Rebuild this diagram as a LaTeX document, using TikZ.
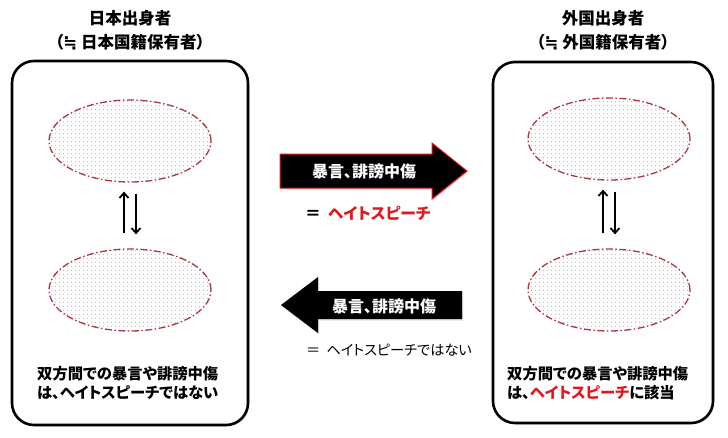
\documentclass[tikz,border=0pt]{standalone}
\usepackage{fontspec}
\setmainfont{Noto Sans CJK JP}[RawFeature=+palt]
\newfontfamily\symfont{DejaVu Sans}
\usetikzlibrary{shapes.geometric,patterns.meta,arrows.meta,shadows}
\definecolor{hred}{RGB}{225,25,30}
\definecolor{edgered}{RGB}{170,55,65}
\definecolor{dotgray}{RGB}{135,135,135}
\begin{document}
\begin{tikzpicture}[x=1pt,y=-1pt,
  panel/.style={draw=black, line width=2.6pt, rounded corners=22pt, fill=white,
    drop shadow={opacity=0.2,shadow xshift=1.5pt,shadow yshift=-1.5pt}},
  blob/.style={ellipse, minimum width=162pt, minimum height=82pt, inner sep=0pt,
    draw=edgered, line width=1.3pt, dash pattern=on 7pt off 2.5pt on 1.5pt off 2.5pt,
    pattern={Dots[distance=4pt,radius=0.5pt]}, pattern color=dotgray},
  vline/.style={line width=2pt, -{Straight Barb[length=5pt,width=9pt,line width=1.8pt]}},
  bigarrow/.style={fill=black},
  title/.style={align=center, inner sep=0pt, font=\bfseries\fontsize{16.5}{24}\selectfont},
  note/.style={align=left, inner sep=0pt, anchor=west, font=\bfseries\fontsize{15.3}{19}\selectfont},
  arrowtext/.style={inner sep=0pt, text=white, font=\bfseries\fontsize{16}{18}\selectfont},
  eqtext/.style={inner sep=0pt, anchor=west}
]
\useasboundingbox (0,0) rectangle (728,437);
\fill[white] (0,0) rectangle (728,437);

% panels
\node[panel, minimum width=236pt, minimum height=364pt] (lp) at (130,243) {};
\node[panel, minimum width=220pt, minimum height=361pt] (rp) at (603,242.5) {};

% titles
\node[title] (lt) at (130,30) {日本出身者\\（{\symfont ≒} 日本国籍保有者）};
\node[title] (rt) at (603,30) {外国出身者\\（{\symfont ≒} 外国籍保有者）};

% ellipses
\node[blob] (lt1) at (130,141) {};
\node[blob] (lb1) at (130,290) {};
\node[blob] (rt1) at (609,139) {};
\node[blob] (rb1) at (609,290) {};

% vertical arrows
\draw[vline, shorten <=15pt, shorten >=9pt] ([xshift=-6pt]lb1.north) -- ([xshift=-6pt]lt1.south);
\draw[vline, shorten <=11pt, shorten >=14pt] ([xshift=6pt]lt1.south) -- ([xshift=6pt]lb1.north);
\draw[vline, shorten <=15pt, shorten >=9pt] ([xshift=-6pt]rb1.north) -- ([xshift=-6pt]rt1.south);
\draw[vline, shorten <=11pt, shorten >=14pt] ([xshift=6pt]rt1.south) -- ([xshift=6pt]rb1.north);

% big right arrow
\filldraw[bigarrow, draw=hred, line width=1pt,
  drop shadow={opacity=0.25,shadow xshift=1pt,shadow yshift=-1.5pt}]
  (280,154) -- (432,154) -- (432,143) -- (467,171) -- (432,199) -- (432,188) -- (280,188) -- cycle;
\node[arrowtext] (ra) at (364,171) {暴言、誹謗中傷};
\node[eqtext, font=\bfseries\fontsize{15.8}{18}\selectfont] (req) at (305,213)
  {＝\hspace{7pt}\textcolor{hred}{ヘイトスピーチ}};

% big left arrow
\fill[bigarrow, drop shadow={opacity=0.25,shadow xshift=1pt,shadow yshift=-1.5pt}]
  (281,305) -- (318,277) -- (318,291) -- (462,291) -- (462,319) -- (318,319) -- (318,333) -- cycle;
\node[arrowtext] (la) at (384,306) {暴言、誹謗中傷};
\node[eqtext, font=\fontsize{14.2}{16}\selectfont] (leq) at (306,350)
  {＝\hspace{6pt}ヘイトスピーチではない};

% notes
\node[note] (ln) at (37,383) {双方間での暴言や誹謗中傷\\は、ヘイトスピーチではない};
\node[note] (rn) at (507,383) {双方間での暴言や誹謗中傷\\は、\textcolor{hred}{ヘイトスピーチ}に該当};
\end{tikzpicture}
\end{document}
